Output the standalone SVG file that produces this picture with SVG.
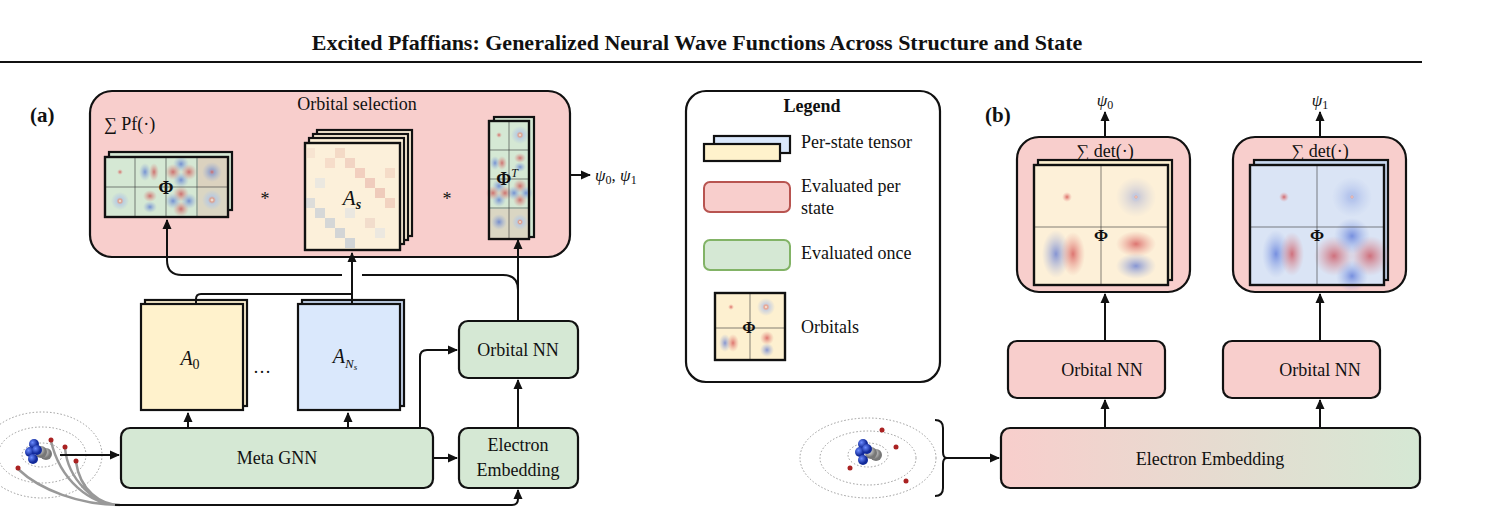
<svg xmlns="http://www.w3.org/2000/svg" width="1495" height="522" viewBox="0 0 1495 522" font-family="'Liberation Serif', 'Times New Roman', serif">
<style>
text{font-family:'Liberation Serif','Times New Roman',serif;fill:#111}
.t{font-size:18px}
.m{font-style:italic}
.box{stroke:#111;stroke-width:2.2}
.pk{fill:#f8cecc}
.gr{fill:#d5e8d4}
.mat{stroke:#111;stroke-width:2.2}
.ln{fill:none;stroke:#111;stroke-width:2}
.cl{stroke:#333;stroke-width:0.6;fill:none}
.bl{opacity:0.7}
</style>
<defs>
<marker id="ar" markerWidth="10" markerHeight="10" refX="9" refY="5" orient="auto" markerUnits="userSpaceOnUse"><path d="M0,0.5 L10,5 L0,9.5 z" fill="#111"/></marker>
<radialGradient id="r"><stop offset="0" stop-color="#c8232c" stop-opacity="0.85"/><stop offset="1" stop-color="#e07070" stop-opacity="0"/></radialGradient>
<radialGradient id="b"><stop offset="0" stop-color="#2a4fd0" stop-opacity="0.8"/><stop offset="1" stop-color="#7a95e0" stop-opacity="0"/></radialGradient>
<radialGradient id="ring"><stop offset="0" stop-color="#fff"/><stop offset="0.2" stop-color="#e08070"/><stop offset="0.4" stop-color="#a8bcea" stop-opacity="0.8"/><stop offset="1" stop-color="#a8bcea" stop-opacity="0"/></radialGradient>
<radialGradient id="dot"><stop offset="0" stop-color="#c33"/><stop offset="1" stop-color="#e88" stop-opacity="0"/></radialGradient>
<linearGradient id="emb" x1="0" x2="1"><stop offset="0" stop-color="#f8cecc"/><stop offset="1" stop-color="#d5e8d4"/></linearGradient>
<radialGradient id="atomN" cx="0.35" cy="0.35"><stop offset="0" stop-color="#6c8cff"/><stop offset="1" stop-color="#122a9a"/></radialGradient>
<radialGradient id="atomC" cx="0.35" cy="0.35"><stop offset="0" stop-color="#eee"/><stop offset="1" stop-color="#777"/></radialGradient>
</defs>

<text x="697" y="50" text-anchor="middle" style="font-size:22px;font-weight:bold">Excited Pfaffians: Generalized Neural Wave Functions Across Structure and State</text>
<line x1="0" y1="62" x2="1422" y2="62" stroke="#111" stroke-width="2"/>

<text x="30" y="122" style="font-size:21px;font-weight:bold">(a)</text>

<g id="orbital-selection">
<rect x="90" y="91" width="480" height="166" rx="22" class="box pk"/>
<text x="357" y="110" text-anchor="middle" class="t">Orbital selection</text>
<text x="104" y="130" class="t">∑ Pf(·)</text>
</g>

<g id="phi">
<rect x="109" y="152" width="123" height="58" fill="#d5e8d4" class="mat"/>
<rect x="105" y="157" width="123" height="60" fill="#d5e8d4" class="mat"/>
<g class="bl">
<circle cx="120" cy="172" r="3" fill="url(#dot)"/>
<ellipse cx="145" cy="172" rx="6" ry="9" fill="url(#b)"/><ellipse cx="154" cy="172" rx="5" ry="9" fill="url(#r)"/>
<circle cx="181" cy="164" r="8" fill="url(#b)"/><circle cx="181" cy="180" r="8" fill="url(#b)"/><circle cx="173" cy="172" r="8" fill="url(#r)"/><circle cx="189" cy="172" r="8" fill="url(#r)"/>
<rect x="198" y="158" width="29" height="29" fill="#e8a99a" opacity="0.5"/><circle cx="212" cy="172" r="10" fill="url(#b)"/><circle cx="212" cy="172" r="3" fill="url(#dot)"/>
<circle cx="120" cy="201" r="9" fill="url(#ring)"/>
<ellipse cx="150" cy="196" rx="7" ry="6" fill="url(#r)"/><ellipse cx="150" cy="207" rx="7" ry="6" fill="url(#b)"/>
<circle cx="181" cy="194" r="8" fill="url(#r)"/><circle cx="181" cy="209" r="8" fill="url(#r)"/><circle cx="173" cy="201" r="8" fill="url(#b)"/><circle cx="189" cy="201" r="8" fill="url(#b)"/>
<rect x="198" y="187" width="29" height="29" fill="#e8a99a" opacity="0.4"/><circle cx="212" cy="200" r="10" fill="url(#ring)"/>
</g>
<path d="M135,157V217M166,157V217M197,157V217M105,187H228" class="cl"/>
<rect x="105" y="157" width="123" height="60" fill="none" class="mat"/>
<text x="166" y="194" text-anchor="middle" style="font-size:18px;font-weight:bold">Φ</text>
</g>
<text x="265" y="205" text-anchor="middle" class="t">*</text>

<g id="As">
<rect x="317" y="130" width="95" height="106" fill="#fdf0d8" class="mat"/>
<rect x="313" y="134" width="95" height="106" fill="#fdf0d8" class="mat"/>
<rect x="309" y="138" width="95" height="106" fill="#fdf0d8" class="mat"/>
<rect x="305" y="143" width="95" height="107" fill="#fcf0da" class="mat"/>
<g opacity="0.45">
<rect x="305" y="148" width="10" height="10" fill="#f2d6c8"/><rect x="325" y="158" width="10" height="10" fill="#f0c8b8"/>
<rect x="345" y="158" width="10" height="10" fill="#e8b4a8"/><rect x="355" y="168" width="10" height="10" fill="#e6a9a0"/>
<rect x="365" y="178" width="10" height="10" fill="#e3a29a"/><rect x="375" y="188" width="10" height="10" fill="#e0a096"/>
<rect x="385" y="198" width="10" height="10" fill="#e8b0a4"/><rect x="335" y="148" width="10" height="10" fill="#ecc0b0"/>
<rect x="305" y="198" width="10" height="10" fill="#b8c8dc"/><rect x="315" y="208" width="10" height="10" fill="#aabcd6"/>
<rect x="325" y="218" width="10" height="10" fill="#a8bad4"/><rect x="335" y="228" width="10" height="10" fill="#a2b6d2"/>
<rect x="345" y="238" width="10" height="10" fill="#9fb4d2"/><rect x="315" y="178" width="10" height="10" fill="#d8dfe8"/>
<rect x="345" y="208" width="10" height="10" fill="#d5dde8"/><rect x="365" y="218" width="10" height="10" fill="#e8c8bc"/>
<rect x="385" y="168" width="10" height="10" fill="#eec4b4"/><rect x="375" y="228" width="10" height="10" fill="#dae0e8"/>
</g>
<rect x="305" y="143" width="95" height="107" fill="none" class="mat"/>
<text x="352" y="205" text-anchor="middle" style="font-size:21px;font-style:italic">A<tspan style="font-size:14px;font-weight:bold" dy="4">s</tspan></text>
</g>
<text x="447" y="205" text-anchor="middle" class="t">*</text>

<g id="phiT">
<rect x="494" y="117" width="40" height="120" fill="#d5e8d4" class="mat"/>
<rect x="489" y="121" width="40" height="118" fill="#d5e8d4" class="mat"/>
<g class="bl">
<circle cx="499" cy="135" r="3" fill="url(#dot)"/>
<circle cx="520" cy="135" r="9" fill="url(#ring)"/>
<ellipse cx="495" cy="163" rx="5" ry="7" fill="url(#b)"/><ellipse cx="502" cy="163" rx="5" ry="7" fill="url(#r)"/>
<ellipse cx="520" cy="158" rx="6" ry="5" fill="url(#r)"/><ellipse cx="520" cy="167" rx="6" ry="5" fill="url(#b)"/>
<circle cx="499" cy="186" r="7" fill="url(#b)"/><circle cx="499" cy="200" r="7" fill="url(#b)"/><circle cx="493" cy="193" r="7" fill="url(#r)"/><circle cx="505" cy="193" r="7" fill="url(#r)"/>
<circle cx="520" cy="186" r="7" fill="url(#r)"/><circle cx="520" cy="200" r="7" fill="url(#r)"/><circle cx="514" cy="193" r="7" fill="url(#b)"/><circle cx="526" cy="193" r="7" fill="url(#b)"/>
<rect x="490" y="209" width="38" height="29" fill="#e8a99a" opacity="0.4"/><circle cx="499" cy="222" r="8" fill="url(#b)"/><circle cx="520" cy="222" r="8" fill="url(#ring)"/>
</g>
<path d="M509,121V239M489,150H529M489,179H529M489,208H529" class="cl"/>
<rect x="489" y="121" width="40" height="118" fill="none" class="mat"/>
<text x="507" y="185" text-anchor="middle" style="font-size:18px;font-weight:bold">Φ<tspan style="font-size:12px;font-weight:normal;font-style:italic" dy="-8">T</tspan></text>
</g>
<text x="595" y="181" class="m" style="font-size:17px">ψ<tspan font-size="12" font-style="normal" dy="3">0</tspan><tspan dy="-3" font-style="normal">, </tspan>ψ<tspan font-size="12" font-style="normal" dy="3">1</tspan></text>

<g id="A0">
<rect x="145" y="300" width="102" height="106" fill="#fdf0d0" class="mat"/>
<rect x="141" y="304" width="102" height="106" fill="#fff2cc" class="mat"/>
<text x="190" y="365" text-anchor="middle" style="font-size:20px;font-style:italic">A<tspan style="font-size:14px;font-style:normal" dy="4">0</tspan></text>
</g>
<text x="262" y="373" text-anchor="middle" class="t">…</text>
<g id="ANs">
<rect x="302" y="300" width="102" height="106" fill="#c8d8f0" class="mat"/>
<rect x="298" y="304" width="102" height="106" fill="#dae8fc" class="mat"/>
<text x="345" y="363" text-anchor="middle" style="font-size:20px;font-style:italic">A<tspan style="font-size:13px" dy="5">N</tspan><tspan style="font-size:9px" dy="2">s</tspan></text>
</g>

<g id="meta-gnn">
<rect x="121" y="428" width="312" height="60" rx="9" class="box gr"/>
<text x="277" y="464" text-anchor="middle" class="t">Meta GNN</text>
</g>
<g id="orbital-nn-a">
<rect x="459" y="321" width="119" height="57" rx="9" class="box gr"/>
<text x="518" y="356" text-anchor="middle" class="t">Orbital NN</text>
</g>
<g id="electron-embedding-a">
<rect x="459" y="428" width="119" height="60" rx="9" class="box gr"/>
<text x="518" y="451" text-anchor="middle" class="t">Electron</text>
<text x="518" y="476" text-anchor="middle" class="t">Embedding</text>
</g>

<g id="molecule-a">
<ellipse cx="42" cy="455" rx="60" ry="43" fill="none" stroke="#999" stroke-width="1" stroke-dasharray="1.5 2"/>
<ellipse cx="42" cy="455" rx="44" ry="28" fill="none" stroke="#999" stroke-width="1" stroke-dasharray="1.5 2"/>
<ellipse cx="42" cy="455" rx="20" ry="12" fill="none" stroke="#999" stroke-width="1" stroke-dasharray="1.5 2"/>
<circle cx="46" cy="454" r="6" fill="url(#atomC)"/><circle cx="41" cy="452" r="6" fill="url(#atomC)"/>
<circle cx="34" cy="444" r="5" fill="url(#atomN)"/><circle cx="30" cy="452" r="5" fill="url(#atomN)"/><circle cx="37" cy="450" r="5" fill="url(#atomN)"/><circle cx="33" cy="459" r="5" fill="url(#atomN)"/>
<path d="M51,441 C60,480 90,505 120,505 M65,448 C68,480 95,505 120,505 M76,462 C80,490 100,505 120,505 M18,469 C40,490 80,505 120,505" fill="none" stroke="#999" stroke-width="2.5"/>
<circle cx="51" cy="440" r="2.5" fill="#a22"/><circle cx="65" cy="447" r="2.5" fill="#a22"/><circle cx="76" cy="461" r="2.5" fill="#a22"/><circle cx="18" cy="468" r="2.5" fill="#a22"/>
</g>

<g id="connectors">
<path d="M60,455H119" class="ln" marker-end="url(#ar)"/>
<path d="M188,428V413" class="ln" marker-end="url(#ar)"/>
<path d="M348,428V413" class="ln" marker-end="url(#ar)"/>
<path d="M196,304V299Q196,294 201,294H352" class="ln"/>
<path d="M352,304V253" class="ln" marker-end="url(#ar)"/>
<path d="M518,321V290Q518,275 503,275H362M342,275H182Q167,275 167,260V220" class="ln" marker-end="url(#ar)"/>
<path d="M518,321V240" class="ln" marker-end="url(#ar)"/>
<path d="M420,428V357Q420,350 427,350H457" class="ln" marker-end="url(#ar)"/>
<path d="M433,458H457" class="ln" marker-end="url(#ar)"/>
<path d="M518,428V380" class="ln" marker-end="url(#ar)"/>
<path d="M115,505H512Q518,505 518,499V490" class="ln" marker-end="url(#ar)"/>
<path d="M570,175H590" class="ln" marker-end="url(#ar)"/>
<path d="M1105,137V112" class="ln" marker-end="url(#ar)"/>
<path d="M1320,137V112" class="ln" marker-end="url(#ar)"/>
<path d="M1105,340V294" class="ln" marker-end="url(#ar)"/>
<path d="M1320,340V294" class="ln" marker-end="url(#ar)"/>
<path d="M1105,428V400" class="ln" marker-end="url(#ar)"/>
<path d="M1320,428V400" class="ln" marker-end="url(#ar)"/>
<path d="M945,458H999" class="ln" marker-end="url(#ar)"/>
</g>

<g id="legend">
<rect x="686" y="91" width="254" height="291" rx="20" fill="#fff" class="box"/>
<text x="812" y="112" text-anchor="middle" style="font-size:18px;font-weight:bold">Legend</text>
<rect x="714" y="136" width="76" height="17" fill="#dae8fc" class="mat"/>
<rect x="704" y="144" width="76" height="17" fill="#fff2cc" class="mat"/>
<text x="801" y="148" class="t">Per-state tensor</text>
<rect x="704" y="182" width="86" height="30" rx="6" fill="#f8cecc" stroke="#b85450" stroke-width="2"/>
<text x="801" y="192" class="t">Evaluated per</text>
<text x="801" y="214" class="t">state</text>
<rect x="704" y="240" width="86" height="30" rx="6" fill="#d5e8d4" stroke="#82b366" stroke-width="2"/>
<text x="801" y="259" class="t">Evaluated once</text>
<rect x="715" y="293" width="70" height="67" fill="#fdf0d0" class="mat"/>
<g class="bl">
<circle cx="731" cy="307" r="3" fill="url(#dot)"/><circle cx="766" cy="307" r="9" fill="url(#ring)"/>
<ellipse cx="725" cy="343" rx="6" ry="9" fill="url(#b)"/><ellipse cx="733" cy="343" rx="6" ry="9" fill="url(#r)"/>
<ellipse cx="767" cy="338" rx="7" ry="7" fill="url(#r)"/><ellipse cx="767" cy="350" rx="7" ry="7" fill="url(#b)"/>
</g>
<path d="M750,293V360M715,328H785" class="cl"/>
<rect x="715" y="293" width="70" height="67" fill="none" class="mat"/>
<text x="749" y="333" text-anchor="middle" style="font-size:16px;font-weight:bold">Φ</text>
<text x="801" y="333" class="t">Orbitals</text>
</g>

<text x="985" y="122" style="font-size:21px;font-weight:bold">(b)</text>
<text x="1105" y="106" text-anchor="middle" class="m" style="font-size:17px">ψ<tspan font-size="12" font-style="normal" dy="3">0</tspan></text>
<text x="1320" y="106" text-anchor="middle" class="m" style="font-size:17px">ψ<tspan font-size="12" font-style="normal" dy="3">1</tspan></text>

<g id="det-0">
<rect x="1017" y="137" width="173" height="155" rx="22" class="box pk"/>
<text x="1105" y="157" text-anchor="middle" class="t">∑ det(·)</text>
<rect x="1038" y="160" width="134" height="120" fill="#fdf0d0" class="mat"/>
<rect x="1034" y="165" width="134" height="120" fill="#fdf0d8" class="mat"/>
<g class="bl">
<circle cx="1067" cy="197" r="5" fill="url(#dot)"/><circle cx="1136" cy="197" r="20" fill="url(#b)" opacity="0.5"/><circle cx="1136" cy="197" r="5" fill="url(#ring)"/>
<ellipse cx="1056" cy="254" rx="14" ry="24" fill="url(#b)"/><ellipse cx="1073" cy="254" rx="12" ry="22" fill="url(#r)"/>
<ellipse cx="1136" cy="244" rx="20" ry="13" fill="url(#r)"/><ellipse cx="1136" cy="266" rx="20" ry="13" fill="url(#b)"/>
</g>
<path d="M1101,165V285M1034,227H1168" class="cl"/>
<rect x="1034" y="165" width="134" height="120" fill="none" class="mat"/>
<text x="1101" y="241" text-anchor="middle" style="font-size:17px;font-weight:bold">Φ</text>
</g>

<g id="det-1">
<rect x="1233" y="137" width="173" height="155" rx="22" class="box pk"/>
<text x="1320" y="157" text-anchor="middle" class="t">∑ det(·)</text>
<rect x="1254" y="160" width="134" height="120" fill="#c8d8f0" class="mat"/>
<rect x="1250" y="165" width="134" height="120" fill="#dae4f5" class="mat"/>
<g class="bl">
<circle cx="1284" cy="197" r="5" fill="url(#dot)"/><circle cx="1352" cy="197" r="20" fill="url(#b)" opacity="0.5"/><circle cx="1352" cy="197" r="5" fill="url(#ring)"/>
<ellipse cx="1276" cy="254" rx="14" ry="24" fill="url(#b)"/><ellipse cx="1292" cy="254" rx="12" ry="22" fill="url(#r)"/>
<circle cx="1334" cy="256" r="20" fill="url(#r)"/><circle cx="1370" cy="256" r="20" fill="url(#r)"/><circle cx="1352" cy="236" r="18" fill="url(#b)"/><circle cx="1352" cy="276" r="16" fill="url(#b)"/>
</g>
<path d="M1317,165V285M1250,227H1384" class="cl"/>
<rect x="1250" y="165" width="134" height="120" fill="none" class="mat"/>
<text x="1317" y="241" text-anchor="middle" style="font-size:17px;font-weight:bold">Φ</text>
</g>

<g id="orbital-nn-b0">
<rect x="1008" y="341" width="157" height="57" rx="9" class="box pk"/>
<text x="1102" y="376" text-anchor="middle" class="t">Orbital NN</text>
</g>
<g id="orbital-nn-b1">
<rect x="1223" y="341" width="157" height="57" rx="9" class="box pk"/>
<text x="1320" y="376" text-anchor="middle" class="t">Orbital NN</text>
</g>
<g id="electron-embedding-b">
<rect x="1001" y="428" width="419" height="60" rx="9" fill="url(#emb)" class="box"/>
<text x="1210" y="465" text-anchor="middle" class="t">Electron Embedding</text>
</g>

<g id="molecule-b">
<ellipse cx="868" cy="458" rx="68" ry="40" fill="none" stroke="#999" stroke-width="1" stroke-dasharray="1.5 2"/>
<ellipse cx="868" cy="458" rx="48" ry="27" fill="none" stroke="#999" stroke-width="1" stroke-dasharray="1.5 2"/>
<ellipse cx="868" cy="455" rx="20" ry="12" fill="none" stroke="#999" stroke-width="1" stroke-dasharray="1.5 2"/>
<circle cx="876" cy="455" r="6" fill="url(#atomC)"/><circle cx="871" cy="453" r="6" fill="url(#atomC)"/>
<circle cx="863" cy="444" r="5" fill="url(#atomN)"/><circle cx="860" cy="452" r="5" fill="url(#atomN)"/><circle cx="867" cy="449" r="5" fill="url(#atomN)"/><circle cx="863" cy="460" r="5" fill="url(#atomN)"/>
<circle cx="882" cy="430" r="2.5" fill="#a22"/><circle cx="896" cy="447" r="2.5" fill="#a22"/><circle cx="850" cy="468" r="2.5" fill="#a22"/><circle cx="906" cy="481" r="2.5" fill="#a22"/>
<path d="M935,420Q943,420 943,428V452Q943,458 947,458Q943,458 943,464V488Q943,496 935,496" fill="none" stroke="#111" stroke-width="2"/>
</g>
</svg>
